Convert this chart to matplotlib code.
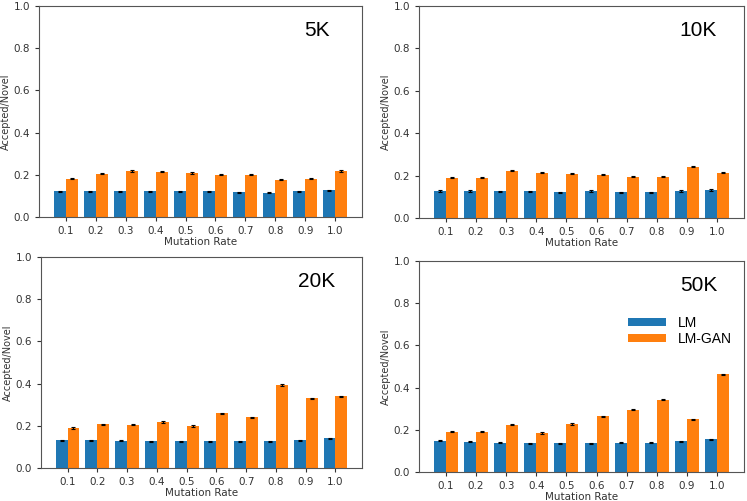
import numpy as np
import matplotlib.pyplot as plt

rates = ['0.1', '0.2', '0.3', '0.4', '0.5', '0.6', '0.7', '0.8', '0.9', '1.0']
sizes = ['5K', '10K', '20K', '50K']

lm_5k = [0.122, 0.122, 0.122, 0.122, 0.122, 0.122, 0.117, 0.116, 0.122, 0.127]
gan_5k = [0.182, 0.206, 0.218, 0.214, 0.209, 0.201, 0.201, 0.177, 0.182, 0.218]
lm_10k = [0.127, 0.127, 0.126, 0.126, 0.122, 0.127, 0.122, 0.122, 0.127, 0.132]
gan_10k = [0.190, 0.190, 0.223, 0.213, 0.209, 0.204, 0.195, 0.195, 0.242, 0.213]
lm_20k = [0.131, 0.131, 0.129, 0.126, 0.126, 0.126, 0.126, 0.126, 0.131, 0.140]
gan_20k = [0.189, 0.207, 0.205, 0.218, 0.199, 0.260, 0.241, 0.393, 0.330, 0.339]
lm_50k = [0.148, 0.144, 0.139, 0.136, 0.136, 0.136, 0.139, 0.139, 0.145, 0.155]
gan_50k = [0.191, 0.191, 0.224, 0.185, 0.227, 0.264, 0.295, 0.343, 0.250, 0.463]

lm_all = [lm_5k, lm_10k, lm_20k, lm_50k]
gan_all = [gan_5k, gan_10k, gan_20k, gan_50k]

W, H = 747, 501
# axes boxes in pixels: left, right, top, bottom
boxes = [(39, 362, 6, 217), (419, 744, 6, 218),
         (41, 362, 257, 468), (419, 744, 261, 472)]

fig = plt.figure(figsize=(W / 100, H / 100), dpi=100)
x = np.arange(len(rates))
w = 0.4
err = dict(elinewidth=0.8, capthick=0.8)

for k, (l, r, t, b) in enumerate(boxes):
    ax = fig.add_axes([l / W, (H - b) / H, (r - l) / W, (b - t) / H])
    ax.bar(x - w / 2, lm_all[k], w, color='#1f77b4', label='LM',
           yerr=0.003, capsize=1.5, error_kw=err)
    ax.bar(x + w / 2, gan_all[k], w, color='#ff7f0e', label='LM-GAN',
           yerr=0.003, capsize=1.5, error_kw=err)
    ax.set_ylim(0, 1.0)
    ax.set_xticks(x)
    ax.set_xticklabels(rates)
    ax.tick_params(labelsize=7.5, colors='#333333', length=3)
    ax.set_ylabel('Accepted/Novel', fontsize=7, color='#333333', labelpad=2)
    ax.set_xlabel('Mutation Rate', fontsize=7.5, color='#333333', labelpad=1)
    for s in ax.spines.values():
        s.set_color('#555555')
    ax.text(0.86, 0.885, sizes[k], transform=ax.transAxes, fontsize=15,
            family='Liberation Sans', ha='center', va='center')
    if k == 3:
        ax.legend(loc='upper right', bbox_to_anchor=(1.0, 0.80), frameon=False,
                  handlelength=2.8, handleheight=0.5, labelspacing=0.15,
                  prop={'family': 'Liberation Sans', 'size': 10})

fig.savefig('out.png', dpi=100)
